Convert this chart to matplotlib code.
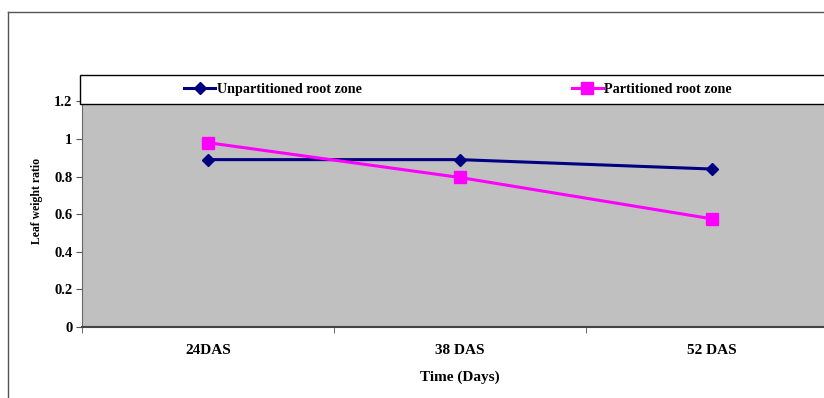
import matplotlib.pyplot as plt
from matplotlib.patches import Rectangle
from matplotlib.lines import Line2D

# data
days = ["24DAS", "38 DAS", "52 DAS"]
unpartitioned = [0.89, 0.89, 0.84]
partitioned = [0.98, 0.795, 0.575]
yticks = [0, 0.2, 0.4, 0.6, 0.8, 1, 1.2]

plt.rcParams['font.family'] = ['Liberation Serif', 'DejaVu Serif']
plt.rcParams['font.weight'] = 'bold'

fig = plt.figure(figsize=(8.24, 3.98), dpi=100)

# outer chart frame (only left and top visible)
fig.add_artist(Line2D([8 / 824, 8 / 824], [0, 1 - 12 / 398], color='#555555', lw=1))
fig.add_artist(Line2D([8 / 824, 1], [1 - 12 / 398, 1 - 12 / 398], color='#555555', lw=1))

ax = fig.add_axes([82 / 824, 71 / 398, 756 / 824, 252 / 398])
ax.set_facecolor('#C0C0C0')
x = range(len(days))

ax.plot(x, unpartitioned, color='#000080', lw=2.2, marker='D', markersize=6,
        label='Unpartitioned root zone')
ax.plot(x, partitioned, color='#FF00FF', lw=2.2, marker='s', markersize=8,
        label='Partitioned root zone')

ax.set_xlim(-0.5, 2.5)
ax.set_ylim(0, 1.34)
ax.set_yticks(yticks)
ax.set_yticklabels(['0', '0.2', '0.4', '0.6', '0.8', '1', '1.2'], fontsize=10.5, fontweight='bold')
ax.set_xticks(list(x))
ax.set_xticklabels(days, fontsize=11, fontweight='bold')
ax.set_xticks([-0.5, 0.5, 1.5], minor=True)
ax.tick_params(axis='x', which='major', length=0, pad=12)
ax.tick_params(axis='x', which='minor', length=4, color='#555555')
ax.tick_params(axis='y', length=4, color='#555555', pad=3)

for s in ['top', 'right']:
    ax.spines[s].set_visible(False)
ax.spines['left'].set_color('#666666')
ax.spines['bottom'].set_color('#444444')
ax.spines['bottom'].set_linewidth(1.5)

ax.set_ylabel('Leaf weight ratio', fontsize=8.5, fontweight='bold')
ax.yaxis.set_label_coords(-0.052, 0.5)
ax.set_xlabel('Time (Days)', fontsize=11, fontweight='bold', labelpad=10)

# white legend band across the top of the plot
band_bottom = 1.186 / 1.34
ax.add_patch(Rectangle((-0.003, band_bottom), 1.05, 1 - band_bottom, transform=ax.transAxes,
                       facecolor='white', edgecolor='black', lw=1, zorder=5, clip_on=False))

leg = ax.legend(ncol=2, loc='center left', bbox_to_anchor=(0.135, (1 + band_bottom) / 2),
                frameon=False, handlelength=2.2, handletextpad=0.1,
                columnspacing=14.85, borderaxespad=0, borderpad=0,
                prop={'weight': 'bold', 'size': 10.2})
leg.set_zorder(6)

fig.savefig('out.png', dpi=100)
